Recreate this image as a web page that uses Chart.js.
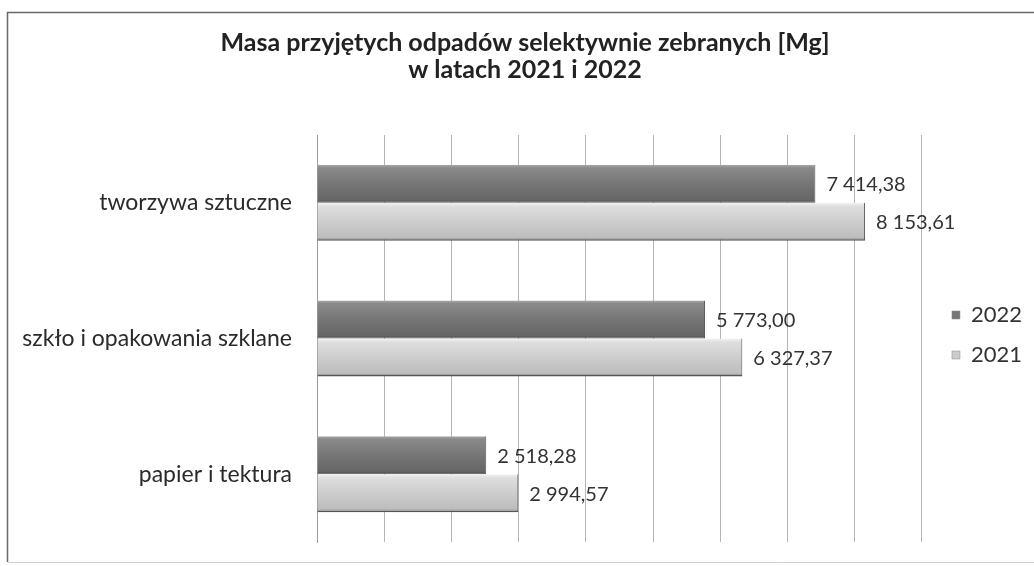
<!DOCTYPE html>
<html>
<head>
<meta charset="utf-8">
<script src="https://cdn.jsdelivr.net/npm/chart.js@4.4.1/dist/chart.umd.min.js"></script>
<style>
  html, body { margin: 0; padding: 0; background: #fff; }
  #c { display: block; }
</style>
</head>
<body>
<canvas id="c" width="1034" height="566"></canvas>
<script>
// ---- data ----
const titleLines = ['Masa przyjętych odpadów selektywnie zebranych [Mg]', 'w latach 2021 i 2022'];
const categories = ['tworzywa sztuczne', 'szkło i opakowania szklane', 'papier i tektura'];
const seriesLabels = ['2022', '2021'];
const values2022 = [7414.38, 5773.00, 2518.28];
const values2021 = [8153.61, 6327.37, 2994.57];
const axisMin = 0;
const axisMax = 9000;
const axisStep = 1000;

const FONT = 'Lato, "Open Sans", sans-serif';

function fmt(v) {
  const parts = v.toFixed(2).split('.');
  const intPart = parts[0].replace(/\B(?=(\d{3})+(?!\d))/g, ' ');
  return intPart + ',' + parts[1];
}

const stops = {
  '2022': [[0, '#a9a9a9'], [0.08, '#8a8a8a'], [0.5, '#767676'], [0.92, '#666666'], [1, '#4a4a4a']],
  '2021': [[0, '#f2f2f2'], [0.1, '#dedede'], [0.5, '#cdcdcd'], [0.92, '#bdbdbd'], [1, '#6a6a6a']]
};
const flat = { '2022': '#777777', '2021': '#cccccc' };

function barFill(series) {
  return function (c) {
    const el = c.element;
    if (c.type !== 'data' || !el || el.y === undefined || el.height === undefined || isNaN(el.y)) return flat[series];
    const top = el.y - el.height / 2, bot = el.y + el.height / 2;
    const g = c.chart.ctx.createLinearGradient(0, top, 0, bot);
    stops[series].forEach(s => g.addColorStop(s[0], s[1]));
    return g;
  };
}

const framePlugin = {
  id: 'frame',
  beforeDraw(chart) {
    const ctx = chart.ctx;
    ctx.save();
    ctx.fillStyle = '#ffffff';
    ctx.fillRect(0, 0, chart.width, chart.height);
    ctx.strokeStyle = '#6a6a6a';
    ctx.lineWidth = 1.5;
    ctx.beginPath();
    ctx.moveTo(chart.width, 12.5);
    ctx.lineTo(7.5, 12.5);
    ctx.lineTo(7.5, 562);
    ctx.stroke();
    ctx.strokeStyle = '#d0d0d0';
    ctx.lineWidth = 1;
    ctx.beginPath();
    ctx.moveTo(7.5, 562.5);
    ctx.lineTo(chart.width, 562.5);
    ctx.stroke();
    ctx.restore();
  }
};

const valueLabels = {
  id: 'valueLabels',
  afterDatasetsDraw(chart) {
    const ctx = chart.ctx;
    ctx.save();
    ctx.font = '20px ' + FONT;
    ctx.fillStyle = '#333333';
    ctx.textAlign = 'left';
    ctx.textBaseline = 'middle';
    chart.data.datasets.forEach((ds, di) => {
      const meta = chart.getDatasetMeta(di);
      meta.data.forEach((el, i) => {
        ctx.fillText(fmt(ds.data[i]), el.x + 11, el.y + 1);
      });
    });
    ctx.restore();
  }
};

const layoutTweak = {
  id: 'layoutTweak',
  afterLayout(chart) {
    // let the category labels use the space left of the y axis box
    chart.scales.y.left = 0;
    const lg = chart.legend;
    if (!lg) return;
    const dx = 12, dy = 64;
    lg.left += dx; lg.right += dx;
    lg.top += dy; lg.bottom += dy;
  }
};

const chart = new Chart(document.getElementById('c'), {
  type: 'bar',
  data: {
    labels: categories,
    datasets: [
      { label: seriesLabels[0], data: values2022, backgroundColor: barFill('2022'),
        borderColor: '#555555', borderWidth: { top: 0, right: 1, bottom: 1, left: 0 }, borderSkipped: false },
      { label: seriesLabels[1], data: values2021, backgroundColor: barFill('2021'),
        borderColor: '#555555', borderWidth: { top: 0, right: 1, bottom: 1.5, left: 0 }, borderSkipped: false }
    ]
  },
  options: {
    indexAxis: 'y',
    responsive: false,
    animation: false,
    devicePixelRatio: 1,
    layout: { padding: { left: 30, right: 14, top: 0, bottom: 24 } },
    datasets: { bar: { categoryPercentage: 0.56, barPercentage: 1.0 } },
    scales: {
      x: {
        min: axisMin, max: axisMax,
        afterFit(scale) { scale.height = 0; },
        ticks: { display: false, stepSize: axisStep },
        grid: { color: '#b5b5b5', lineWidth: 1, drawTicks: false },
        border: { display: false }
      },
      y: {
        afterFit(scale) { scale.width = 287; scale.paddingTop = 0; scale.paddingBottom = 0; },
        ticks: { font: { family: FONT, size: 23 }, color: '#2a2a2a', padding: 25 },
        grid: { display: false, drawTicks: false },
        border: { display: true, color: '#9a9a9a', width: 1 }
      }
    },
    plugins: {
      title: {
        display: true,
        text: titleLines,
        color: '#222222',
        font: { family: FONT, size: 25, weight: 'bold', lineHeight: 1.08 },
        padding: { top: 29, bottom: 52 }
      },
      legend: {
        display: true,
        position: 'right',
        align: 'center',
        labels: {
          font: { family: FONT, size: 22 },
          color: '#333333',
          boxWidth: 8, boxHeight: 8,
          padding: 18,
          generateLabels(ch) {
            return ch.data.datasets.map((ds, i) => ({
              text: ds.label,
              fillStyle: flat[ds.label],
              strokeStyle: '#888888',
              lineWidth: 0.5,
              hidden: false,
              datasetIndex: i,
              fontColor: '#333333'
            }));
          }
        }
      },
      tooltip: { enabled: false }
    }
  },
  plugins: [framePlugin, valueLabels, layoutTweak]
});
chart.update('none');
</script>
</body>
</html>
